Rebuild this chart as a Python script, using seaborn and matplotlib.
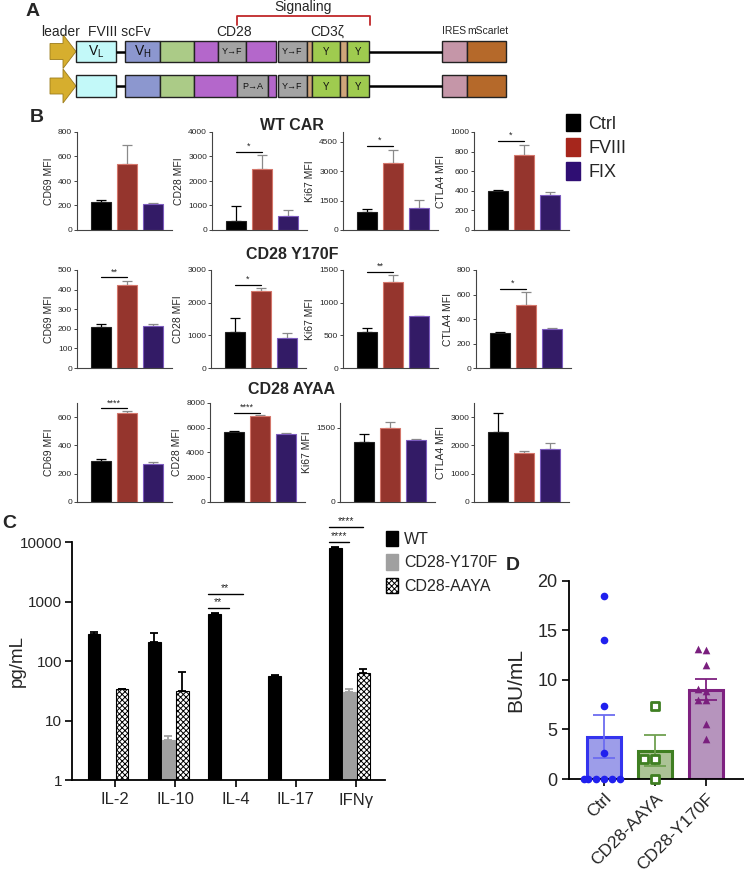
import numpy as np
import pandas as pd
import matplotlib
matplotlib.use('Agg')
import matplotlib.pyplot as plt
import seaborn as sns
from matplotlib.patches import Rectangle, Polygon, Patch
from matplotlib.ticker import NullLocator

sns.set_theme(style='ticks')
plt.rcParams['font.family'] = ['Liberation Sans', 'DejaVu Sans']
plt.rcParams['mathtext.fontset'] = 'custom'
plt.rcParams['mathtext.rm'] = 'Liberation Sans'
plt.rcParams['hatch.linewidth'] = 0.7

# ---------------- data ----------------
# Panel A: construct segments (lengths in drawing units), WT and AAYA rows
seg_len_wt = [40, 9, 35, 34, 24, 28, 30, 2, 29, 5, 28, 7, 22, 73, 25, 39]
seg_len_aaya = [40, 9, 35, 34, 43, 31, 8, 2, 29, 5, 28, 7, 22, 73, 25, 39]
seg_txt_wt = ['V$_\\mathrm{L}$', '', 'V$_\\mathrm{H}$', '', '', 'Y→F', '', '', 'Y→F', '', 'Y', '', 'Y', '', '', '']
seg_txt_aaya = ['', '', '', '', '', 'P→A', '', '', 'Y→F', '', 'Y', '', 'Y', '', '', '']
seg_col = ['#C3F9F9', 'line', '#8C97CF', '#ABCB87', '#B467CB', '#A3A3A3', '#B467CB', 'gap',
           '#A3A3A3', '#CFA57A', '#9FCB4F', '#CFA57A', '#9FCB4F', 'line', '#C596A8', '#B5692A']

# Panel B
b_groups = ['Ctrl', 'FVIII', 'FIX']
b_rows = ['WT CAR', 'CD28 Y170F', 'CD28 AYAA']
b_markers = ['CD69', 'CD28', 'Ki67', 'CTLA4']
wt_means = [[230, 542, 211], [380, 2508, 570], [900, 3400, 1110], [395, 762, 360]]
wt_errs = [[11, 148, 8], [610, 543, 244], [153, 680, 424], [17, 109, 24]]
wt_sig = ['', '*', '*', '*']
wt_sig_y = [0, 3190, 4300, 910]
y170f_means = [[210, 425, 215], [1111, 2366, 909], [551, 1321, 796], [283, 518, 318]]
y170f_errs = [[17, 18, 12], [429, 74, 153], [61, 103, 6], [8, 100, 6]]
y170f_sig = ['**', '*', '**', '*']
y170f_sig_y = [463, 2550, 1474, 648]
ayaa_means = [[293, 628, 271], [5650, 6950, 5460], [1205, 1494, 1260], [2485, 1716, 1858]]
ayaa_errs = [[9, 12, 10], [70, 60, 140], [172, 123, 20], [667, 71, 213]]
ayaa_sig = ['****', '****', '', '']
ayaa_sig_y = [662, 7216, 0, 0]

# Panel C
c_cytokines = ['IL-2', 'IL-10', 'IL-4', 'IL-17', 'IFNγ']
c_series = ['WT', 'CD28-Y170F', 'CD28-AAYA']
c_wt = [290, 212, 623, 56, 7900]
c_wt_err = [22, 83, 17, 1.5, 500]
c_y170f = [np.nan, 4.8, np.nan, np.nan, 30.7]
c_y170f_err = [np.nan, 0.8, np.nan, np.nan, 2.9]
c_aaya = [33.6, 31.9, np.nan, np.nan, 64]
c_aaya_err = [0.9, 33, np.nan, np.nan, 9]
c_sig_idx = [2, 2, 4, 4]
c_sig_vs = [1, 2, 1, 2]
c_sig_y = [775, 1335, 10000, 17900]
c_sig_txt = ['**', '**', '****', '****']

# Panel D
d_groups = ['Ctrl', 'CD28-AAYA', 'CD28-Y170F']
d_ctrl = [18.5, 14.0, 7.4, 2.6, 0, 0, 0, 0, 0, 0]
d_aaya = [7.4, 2.0, 2.0, 0.0]
d_y170f = [13.1, 13.0, 11.5, 9.1, 8.9, 8.0, 8.0, 5.5, 4.0]

# ---------------- figure ----------------
W, H = 744, 873
fig = plt.figure(figsize=(W / 100, H / 100), dpi=100)


def px_axes(x0, y_top, x1, y_bottom):
    return fig.add_axes([x0 / W, 1 - y_bottom / H, (x1 - x0) / W, (y_bottom - y_top) / H])


# ---- Panel A: construct diagram ----
ax_a = fig.add_axes([0, 1 - 110 / H, 1, 110 / H])
ax_a.set_xlim(0, W)
ax_a.set_ylim(110, 0)
ax_a.axis('off')

for lens, txts, (ytop, ybot) in [(seg_len_wt, seg_txt_wt, (41, 62)), (seg_len_aaya, seg_txt_aaya, (75, 97))]:
    ymid = (ytop + ybot) / 2
    # leader arrow
    ax_a.add_patch(Polygon([(50, ymid - 8), (63, ymid - 8), (63, ymid - 17), (76, ymid),
                            (63, ymid + 17), (63, ymid + 8), (50, ymid + 8)],
                           closed=True, fc='#D6AE2E', ec='#9C7C1C', lw=0.6))
    x = 76
    for L, c, t in zip(lens, seg_col, txts):
        if c == 'line':
            ax_a.plot([x, x + L], [ymid, ymid], color='black', lw=1.8, solid_capstyle='butt')
        elif c != 'gap':
            ax_a.add_patch(Rectangle((x, ytop), L, ybot - ytop, fc=c, ec='#222222', lw=1.0))
            if t:
                fs = 10 if t.startswith('V') else (6.5 if '→' in t else 7)
                ax_a.text(x + L / 2, ymid + 0.5, t, ha='center', va='center', fontsize=fs,
                          color='#111111')
        x += L

ax_a.text(33, 12, 'A', fontsize=14, weight='bold', ha='center', va='center')
ax_a.plot([237, 237, 370, 370], [25, 16, 16, 25], color='#C0282A', lw=1.3)
ax_a.text(303, 7, 'Signaling', fontsize=10, ha='center', va='center')
for t, xc in [('leader', 61), ('FVIII scFv', 119), ('CD28', 234), ('CD3ζ', 327)]:
    ax_a.text(xc, 32, t, fontsize=10, ha='center', va='center')
ax_a.text(454, 31.5, 'IRES', fontsize=7.5, ha='center', va='center')
ax_a.text(488, 31.5, 'mScarlet', fontsize=7.5, ha='center', va='center')

# ---- Panel B: MFI bar charts ----
b_fill = ['#000000', '#A6261C', '#2F0E73']
b_edge = ['#222222', '#D4766B', '#7C5BBE']
b_ecol = ['#000000', '#8A8A8A', '#8A8A8A']
b_ylim = [[800, 4000, 5000, 1000], [500, 3000, 1500, 800], [700, 8000, 2000, 3500]]
b_ticks = [[[0, 200, 400, 600, 800], [0, 1000, 2000, 3000, 4000], [0, 1500, 3000, 4500], [0, 200, 400, 600, 800, 1000]],
           [[0, 100, 200, 300, 400, 500], [0, 1000, 2000, 3000], [0, 500, 1000, 1500], [0, 200, 400, 600, 800]],
           [[0, 200, 400, 600], [0, 2000, 4000, 6000, 8000], [0, 1500], [0, 1000, 2000, 3000]]]
row_px = [(132, 230), (270, 368), (403, 502)]
col_px = [[77, 212, 343, 474], [77, 211, 343, 476], [77, 210, 340, 474]]
row_title_y = [125, 254, 390]

all_means = [wt_means, y170f_means, ayaa_means]
all_errs = [wt_errs, y170f_errs, ayaa_errs]
all_sig = [wt_sig, y170f_sig, ayaa_sig]
all_sig_y = [wt_sig_y, y170f_sig_y, ayaa_sig_y]

for r in range(3):
    fig.text(292 / W, 1 - row_title_y[r] / H, b_rows[r], fontsize=11.5, weight='bold',
             ha='center', va='center')
    for c in range(4):
        ax = px_axes(col_px[r][c], row_px[r][0], col_px[r][c] + 95, row_px[r][1])
        df = pd.DataFrame({'group': b_groups, 'MFI': all_means[r][c]})
        sns.barplot(data=df, x='group', y='MFI', hue='group', palette=b_fill, width=0.77,
                    legend=False, ax=ax, linewidth=0.8)
        for p, ec in zip(ax.patches, b_edge):
            p.set_edgecolor(ec)
        for i in range(3):
            ax.errorbar(i, all_means[r][c][i], yerr=[[0], [all_errs[r][c][i]]], fmt='none',
                        ecolor=b_ecol[i], elinewidth=0.9, capsize=3.5, capthick=0.9, zorder=1)
        for p in ax.patches:
            p.set_zorder(2)
        if all_sig[r][c]:
            ys = all_sig_y[r][c]
            ax.plot([0, 1], [ys, ys], color='black', lw=0.9, clip_on=False)
            ax.text(0.5, ys + b_ylim[r][c] * 0.01, all_sig[r][c], ha='center', va='bottom',
                    fontsize=6.5)
        ax.set_xlim(-0.92, 2.73)
        ax.set_ylim(0, b_ylim[r][c])
        ax.set_yticks(b_ticks[r][c])
        ax.tick_params(axis='y', labelsize=6, length=2.5, width=0.6, pad=1)
        ax.set_xticks([])
        ax.set_xlabel('')
        ax.set_ylabel(b_markers[c] + ' MFI', fontsize=7.5, labelpad=3)
        sns.despine(ax=ax)
        for s in ['left', 'bottom']:
            ax.spines[s].set_color('#444444')
            ax.spines[s].set_linewidth(0.8)

fig.text(37 / W, 1 - 118 / H, 'B', fontsize=14, weight='bold', ha='center', va='center')
fig.legend(handles=[Patch(fc=col, ec=col) for col in b_fill], labels=b_groups,
           loc='upper left', bbox_to_anchor=(566 / W, 1 - 114 / H), frameon=False, fontsize=13,
           handlelength=0.8, handleheight=1.1, handletextpad=0.45, labelspacing=0.3,
           borderaxespad=0, borderpad=0)

# ---- Panel C: cytokines on log scale ----
ax_c = px_axes(72, 542.3, 385, 780)
ax_c.set_yscale('log')
xc = np.arange(len(c_cytokines))
offs = [-0.348, -0.116, 0.116]
bw = 0.215
c_vals = [c_wt, c_y170f, c_aaya]
c_errs = [c_wt_err, c_y170f_err, c_aaya_err]
c_fc = ['#000000', '#A0A0A0', 'white']
c_ec = ['#000000', '#A0A0A0', '#000000']
c_hatch = [None, None, 'xxxxxx']
c_err_col = ['#000000', '#A0A0A0', '#000000']
for k in range(3):
    vals = np.array(c_vals[k], dtype=float)
    errs = np.array(c_errs[k], dtype=float)
    ax_c.errorbar(xc + offs[k], vals, yerr=[np.zeros_like(errs), errs], fmt='none',
                  ecolor=c_err_col[k], elinewidth=1.3, capsize=3, capthick=1.3, zorder=1)
    ax_c.bar(xc + offs[k], vals, bw, color=c_fc[k], edgecolor=c_ec[k], hatch=c_hatch[k],
             linewidth=0.8, zorder=2, label=c_series[k])
for i, vs, ys, t in zip(c_sig_idx, c_sig_vs, c_sig_y, c_sig_txt):
    x0 = i + offs[0] - bw * 0.5
    x1 = i + offs[vs]
    ax_c.plot([x0, x1], [ys, ys], color='black', lw=1.0, clip_on=False)
    ax_c.text((x0 + x1) / 2, ys * 1.04, t, ha='center', va='bottom', fontsize=7.5, clip_on=False)
ax_c.set_ylim(1, 10000)
ax_c.set_xlim(-0.713, 4.478)
ax_c.set_yticks([1, 10, 100, 1000, 10000])
ax_c.set_yticklabels(['1', '10', '100', '1000', '10000'])
ax_c.yaxis.set_minor_locator(NullLocator())
ax_c.set_xticks(xc)
ax_c.set_xticklabels(c_cytokines)
ax_c.tick_params(axis='both', labelsize=12, length=5, width=1.2, color='black')
ax_c.tick_params(axis='y', labelsize=11, pad=2)
ax_c.tick_params(axis='x', pad=4)
ax_c.set_ylabel('pg/mL', fontsize=13.5)
ax_c.yaxis.set_label_coords(-0.148, 0.5)
sns.despine(ax=ax_c)
for s in ['left', 'bottom']:
    ax_c.spines[s].set_linewidth(1.3)
    ax_c.spines[s].set_color('black')
fig.text(9 / W, 1 - 524 / H, 'C', fontsize=14, weight='bold', ha='center', va='center')
fig.legend(handles=[Patch(fc=c_fc[k], ec=c_ec[k], hatch=c_hatch[k]) for k in range(3)],
           labels=c_series, loc='upper left', bbox_to_anchor=(386 / W, 1 - 531 / H),
           frameon=False, fontsize=11.5, handlelength=0.75, handleheight=1.1,
           handletextpad=0.4, labelspacing=0.45, borderaxespad=0, borderpad=0)

# ---- Panel D: BU/mL ----
d_df = pd.DataFrame({'group': ['Ctrl'] * len(d_ctrl) + ['CD28-AAYA'] * len(d_aaya)
                     + ['CD28-Y170F'] * len(d_y170f),
                     'BU': d_ctrl + d_aaya + d_y170f})
d_fill = ['#9090F6', '#AACB8E', '#BB8DC4']
d_edge = ['#3434EE', '#3F7F22', '#7E2180']
d_err = ['#6C6CF0', '#6FA050', '#7E2180']
d_mark = ['o', 's', '^']
d_pt_fc = ['#2020EE', 'white', '#7A1F7E']
d_pt_ec = ['#2020EE', '#3F7F22', '#7A1F7E']

ax_d = px_axes(569.3, 580.7, 744, 779)
sns.barplot(data=d_df, x='group', y='BU', hue='group', order=d_groups, hue_order=d_groups,
            palette=d_fill, errorbar=None, width=0.67, linewidth=2.2, legend=False, ax=ax_d)
for p, ec in zip(ax_d.patches, d_edge):
    p.set_edgecolor(ec)
stats = d_df.groupby('group')['BU'].agg(['mean', 'sem']).reindex(d_groups)
for i, g in enumerate(d_groups):
    ax_d.errorbar(i, stats.loc[g, 'mean'], yerr=stats.loc[g, 'sem'], fmt='none', ecolor=d_err[i],
                  elinewidth=1.3, capsize=8, capthick=1.3, zorder=3)
for i, g in enumerate(d_groups):
    sns.swarmplot(data=d_df[d_df['group'] == g], x='group', y='BU', order=d_groups,
                  marker=d_mark[i], color=d_pt_fc[i], edgecolor=d_pt_ec[i],
                  linewidth=2.0 if d_mark[i] == 's' else 0, size=5.5, ax=ax_d, zorder=4)
for coll in ax_d.collections:
    coll.set_clip_on(False)
ax_d.set_xlim(-0.68, 2.75)
ax_d.set_ylim(0, 20)
ax_d.set_yticks([0, 5, 10, 15, 20])
ax_d.set_xlabel('')
ax_d.set_ylabel('BU/mL', fontsize=15, labelpad=9)
ax_d.tick_params(axis='both', labelsize=13, length=5, width=1.2, color='black')
ax_d.tick_params(axis='x', labelsize=12.5)
plt.setp(ax_d.get_xticklabels(), rotation=45, ha='right', rotation_mode='anchor')
sns.despine(ax=ax_d)
for s in ['left', 'bottom']:
    ax_d.spines[s].set_linewidth(1.3)
    ax_d.spines[s].set_color('black')
fig.text(513 / W, 1 - 566 / H, 'D', fontsize=14, weight='bold', ha='center', va='center')

fig.savefig('out.png', dpi=100)
